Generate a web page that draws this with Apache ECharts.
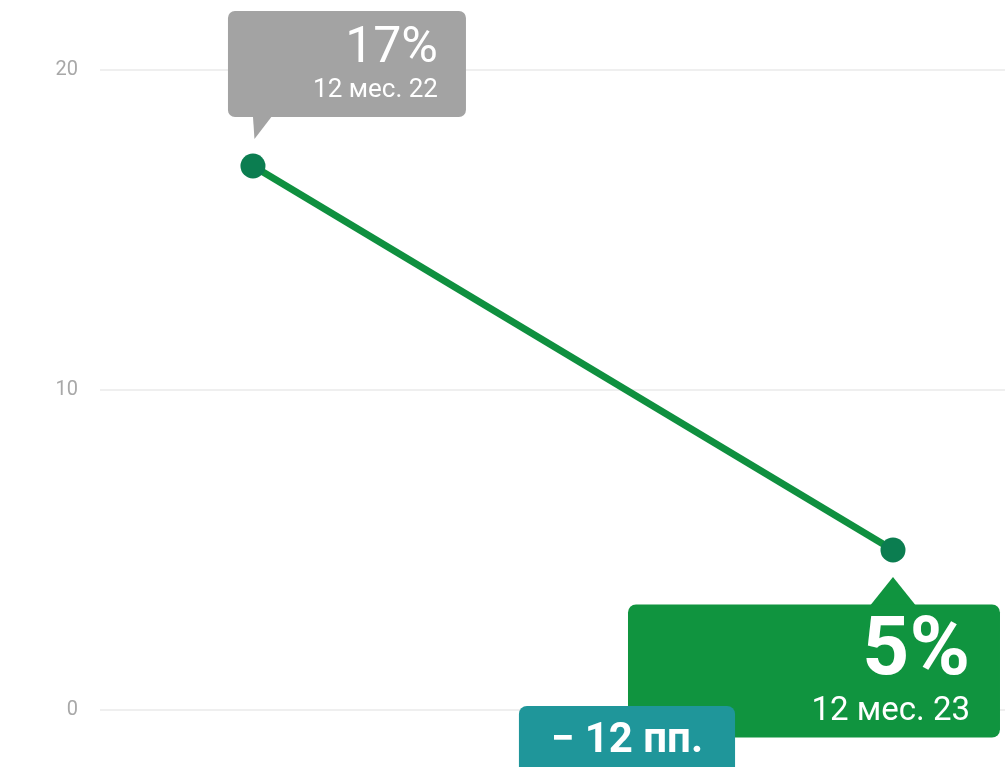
<!DOCTYPE html>
<html><head><meta charset="utf-8">
<script src="https://cdn.jsdelivr.net/npm/echarts@6/dist/echarts.min.js"></script>
<style>html,body{margin:0;padding:0;background:#fff}#c{width:1005px;height:767px}</style>
</head><body><div id="c"></div>
<script>
const categories = ['12 мес. 22', '12 мес. 23'];
const values = [17, 5];
const yTicks = [0, 10, 20];

const chart = echarts.init(document.getElementById('c'));
const pts = values.map((v, i) => [i, v]);
const diff = values[1] - values[0];
const font = 'Roboto, "Liberation Sans", sans-serif';

chart.setOption({
  animation: false,
  grid: { left: 100, right: 0, top: 70, bottom: 57 },
  xAxis: { type: 'value', min: -0.239, max: 1.175, show: false },
  yAxis: {
    type: 'value', min: yTicks[0], max: yTicks[yTicks.length - 1], interval: 10,
    axisLine: { show: false }, axisTick: { show: false },
    axisLabel: { color: '#a8a8a8', fontSize: 20, fontFamily: font, margin: 22 },
    splitLine: { lineStyle: { color: '#efefef', width: 2 } }
  },
  series: [
    {
      type: 'scatter', silent: true, z: 1,
      symbol: 'path://M0,0 L25,0 L2,30 Z',
      itemStyle: { opacity: 1 },
      data: [
        { value: pts[0], symbolSize: [25, 30], symbolOffset: [12, -42], itemStyle: { color: '#a3a3a3', opacity: 1 } },
        { value: pts[1], symbol: 'path://M0,30 L24,0 L48,30 Z', symbolSize: [48, 30], symbolOffset: [0, 42], itemStyle: { color: '#10943f', opacity: 1 } }
      ]
    },
    {
      type: 'line', z: 3,
      data: [
        { value: pts[0], label: {
            show: true, position: 'inside', offset: [213, -102],
            backgroundColor: '#a3a3a3', borderRadius: 7, width: 200, align: 'right',
            padding: [12, 28, 12, 10],
            formatter: '{v|' + values[0] + '%}\n{d|' + categories[0] + '}',
            rich: {
              v: { fontSize: 50, lineHeight: 52, color: '#fff', fontFamily: font, align: 'right' },
              d: { fontSize: 26, lineHeight: 30, color: '#fff', fontFamily: font, align: 'right' }
            }
          } },
        { value: pts[1], label: {
            show: true, position: 'inside', offset: [107, 121],
            backgroundColor: '#10943f', borderRadius: 8, width: 332, align: 'right',
            padding: [9, 30, 8, 10],
            formatter: '{v|' + values[1] + '%}\n{d|' + categories[1] + '}',
            rich: {
              v: { fontSize: 82, lineHeight: 80, fontWeight: 'bold', color: '#fff', fontFamily: font, align: 'right' },
              d: { fontSize: 33, lineHeight: 36, color: '#fff', fontFamily: font, align: 'right' }
            }
          } }
      ],
      symbol: 'circle', symbolSize: 25,
      lineStyle: { color: '#0f903f', width: 7 },
      itemStyle: { color: '#0b7d50' }
    },
    {
      type: 'scatter', silent: true, z: 4, symbolSize: 0,
      itemStyle: { opacity: 1 },
      data: [{ value: [1, yTicks[0]], label: {
        show: true, position: 'inside', offset: [-266, 31], opacity: 1,
        backgroundColor: '#1f969a', borderRadius: 8,
        padding: [10, 32, 14, 32],
        formatter: '− ' + Math.abs(diff) + ' пп.',
        color: '#fff', fontSize: 42, fontWeight: 'bold', fontFamily: font, lineHeight: 46
      } }]
    }
  ]
});
</script></body></html>
